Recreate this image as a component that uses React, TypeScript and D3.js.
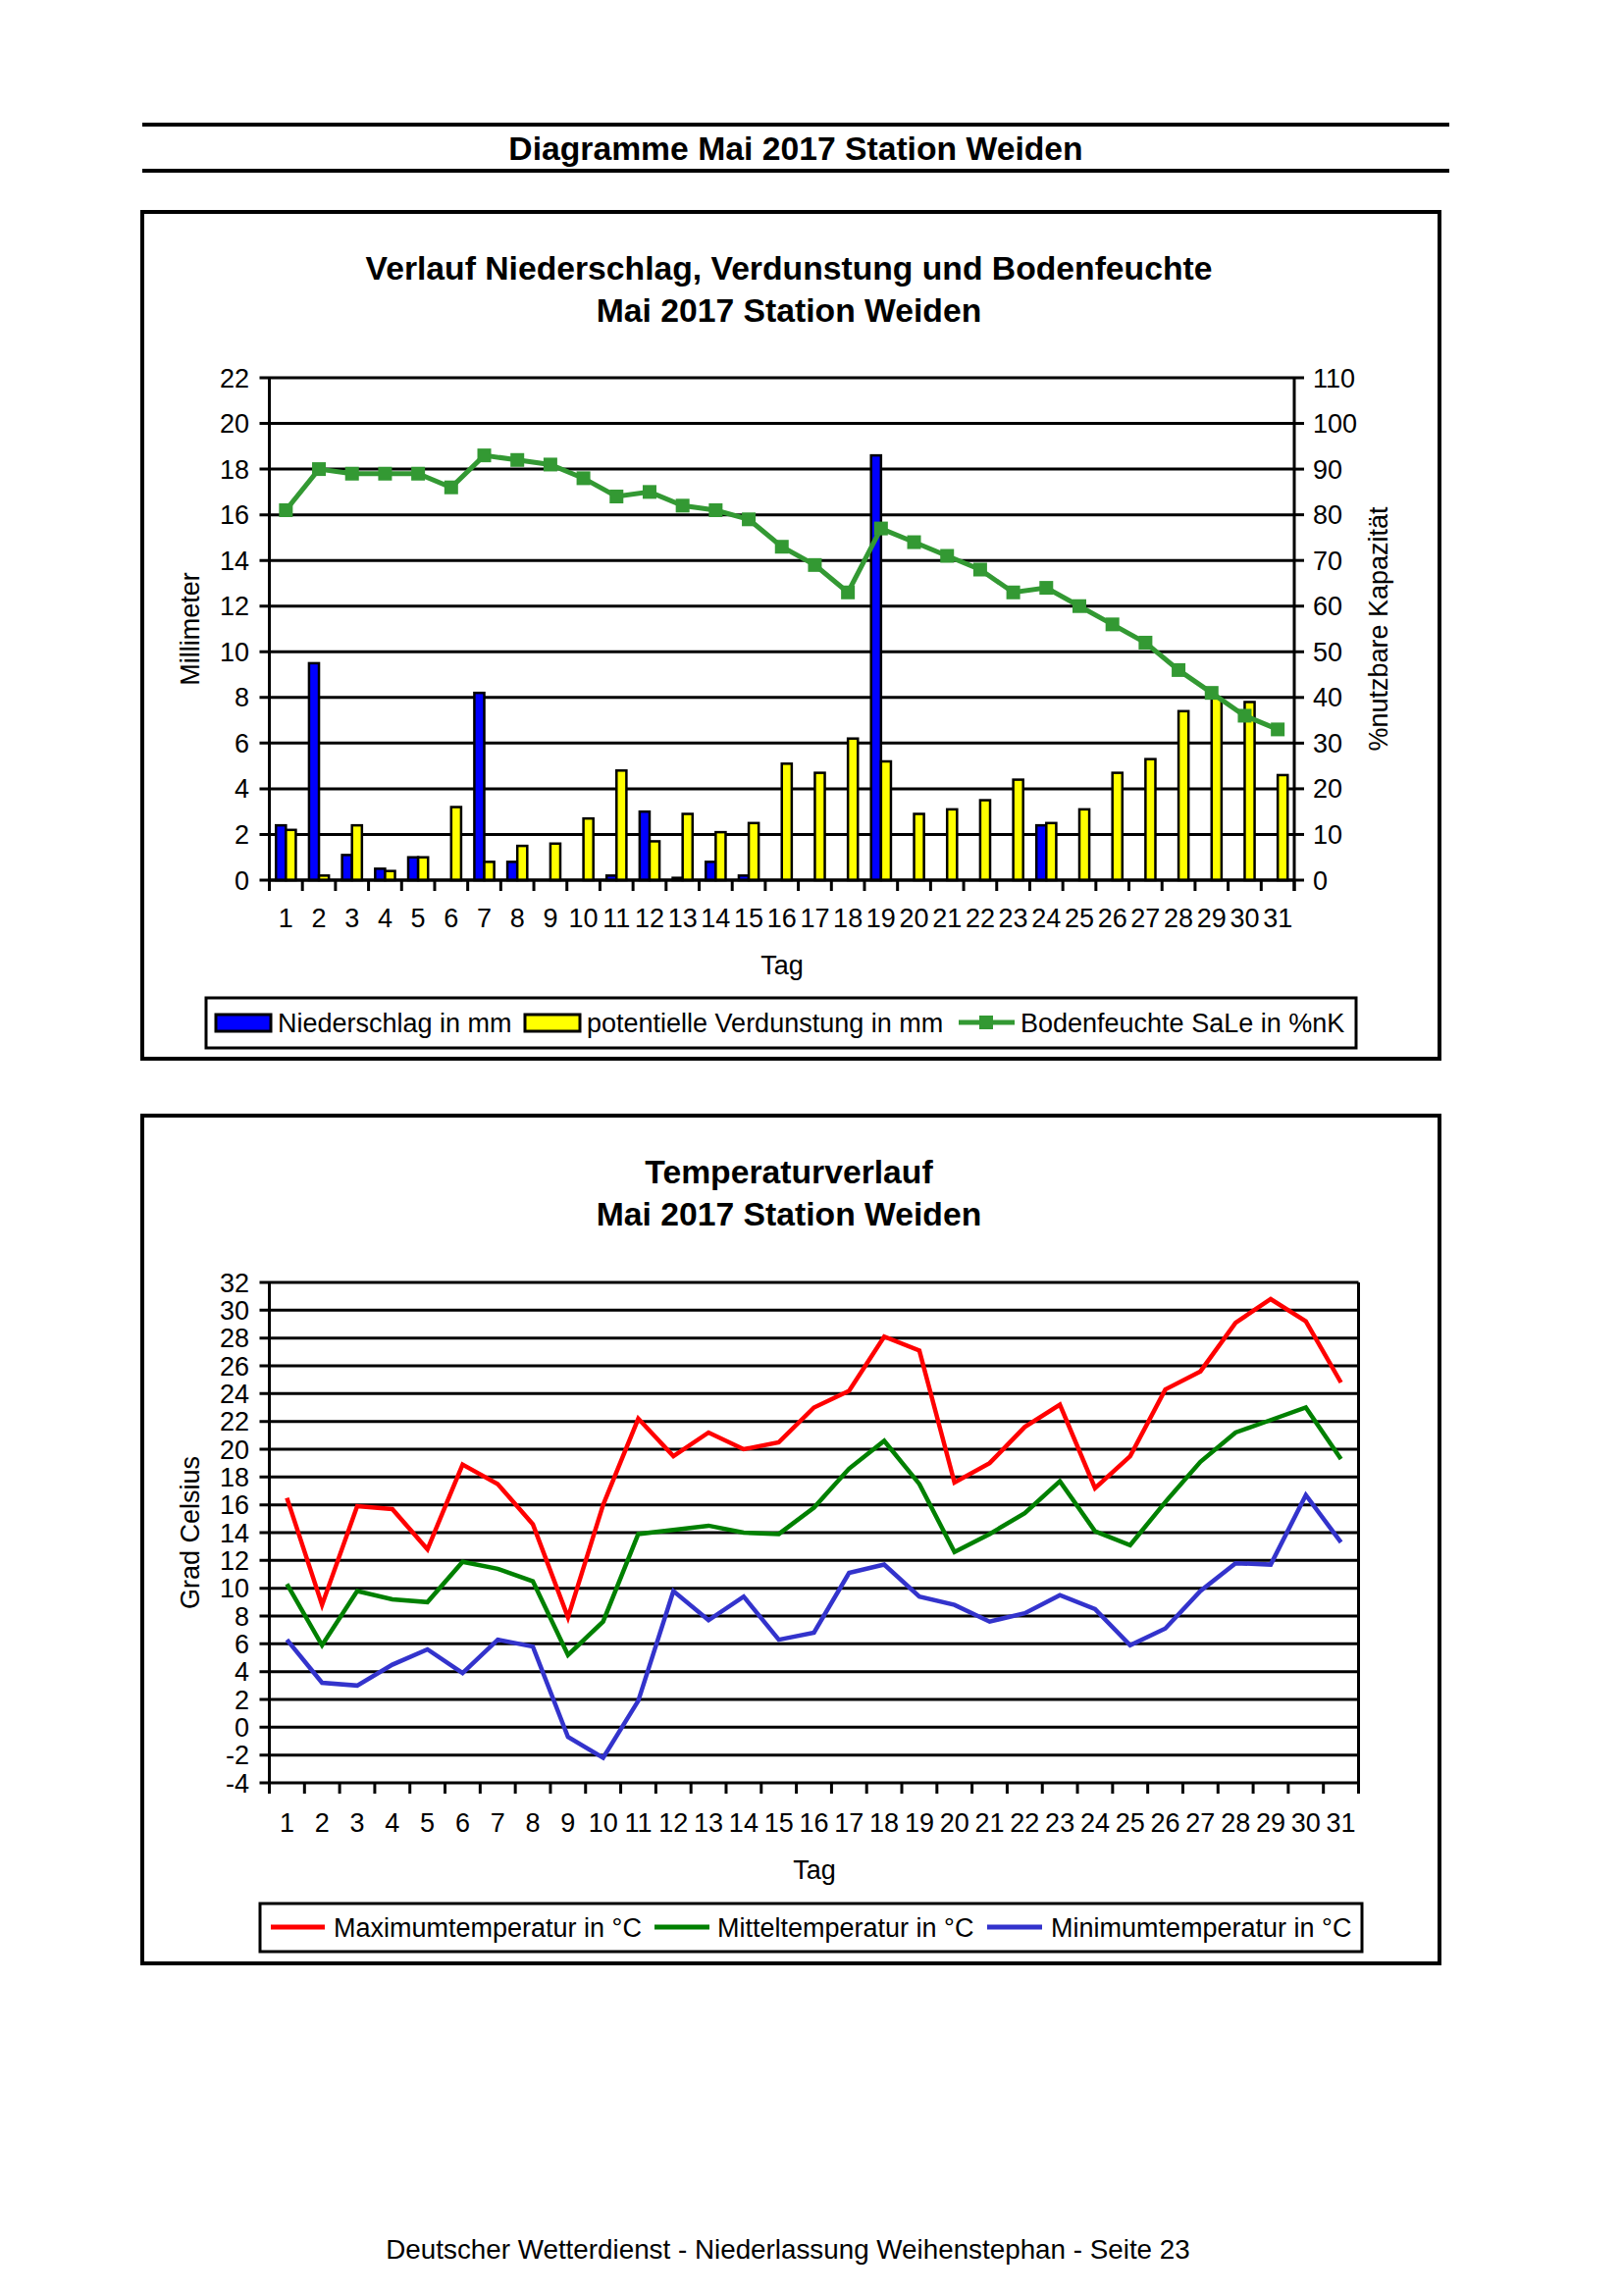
import React from 'react';
import * as d3 from 'd3';

const FONT = '"Liberation Sans", Arial, Helvetica, sans-serif';

const days = ["1","2","3","4","5","6","7","8","9","10","11","12","13","14","15","16","17","18","19","20","21","22","23","24","25","26","27","28","29","30","31"];
const niederschlag = [2.4,9.5,1.1,0.5,1.0,0,8.2,0.8,0,0,0.2,3.0,0.1,0.8,0.2,0,0,0,18.6,0,0,0,0,2.4,0,0,0,0,0,0,0];
const verdunstung = [2.2,0.2,2.4,0.4,1.0,3.2,0.8,1.5,1.6,2.7,4.8,1.7,2.9,2.1,2.5,5.1,4.7,6.2,5.2,2.9,3.1,3.5,4.4,2.5,3.1,4.7,5.3,7.4,8.0,7.8,4.6];
const bodenfeuchte = [81,90,89,89,89,86,93,92,91,88,84,85,82,81,79,73,69,63,77,74,71,68,63,64,60,56,52,46,41,36,33];
const tMax = [16.5,8.8,15.9,15.7,12.8,18.9,17.5,14.6,7.9,16.0,22.2,19.5,21.2,20.0,20.5,23.0,24.2,28.1,27.1,17.6,19.0,21.6,23.2,17.2,19.5,24.3,25.6,29.1,30.8,29.2,24.8];
const tMittel = [10.3,5.9,9.8,9.2,9.0,11.9,11.4,10.5,5.2,7.6,13.9,14.2,14.5,14.0,13.9,15.8,18.6,20.6,17.5,12.6,13.9,15.4,17.7,14.1,13.1,16.2,19.1,21.2,22.1,23.0,19.3];
const tMin = [6.3,3.2,3.0,4.5,5.6,3.9,6.3,5.8,-0.7,-2.2,1.9,9.8,7.7,9.4,6.3,6.8,11.1,11.7,9.4,8.8,7.6,8.2,9.5,8.5,5.9,7.1,9.8,11.8,11.7,16.7,13.3];
const mmTicks = [0,2,4,6,8,10,12,14,16,18,20,22];
const pctTicks = [0,10,20,30,40,50,60,70,80,90,100,110];
const tempTicks = [-4,-2,0,2,4,6,8,10,12,14,16,18,20,22,24,26,28,30,32];

const pageTitle = "Diagramme Mai 2017 Station Weiden";
const chart1Title = ["Verlauf Niederschlag, Verdunstung und Bodenfeuchte", "Mai 2017 Station Weiden"];
const chart2Title = ["Temperaturverlauf", "Mai 2017 Station Weiden"];
const footer = "Deutscher Wetterdienst - Niederlassung Weihenstephan - Seite 23";

const TICK_FS = 27;
const LEG_FS = 27;
const TITLE_FS = 33.7;

function Chart1() {
  const L = 274.5, R = 1319, T = 385, B = 897;
  const x = d3.scaleBand<string>().domain(days).range([L, R]).paddingInner(0).paddingOuter(0);
  const yL = d3.scaleLinear().domain([0, 22]).range([B, T]);
  const yR = d3.scaleLinear().domain([0, 110]).range([B, T]);
  const bw = x.bandwidth() * 0.3;
  const line = d3.line<number>().x((_, i) => (x(days[i]) as number) + x.bandwidth() / 2).y(d => yR(d));
  const boundaries = days.map(d => x(d) as number).concat([R]);
  return (
    <g>
      <rect x={145} y={216} width={1322} height={863} fill="white" stroke="black" strokeWidth={4} />
      {chart1Title.map((t, i) => (
        <text key={i} x={804} y={285 + i * 43} textAnchor="middle" fontSize={TITLE_FS} fontWeight="bold" fontFamily={FONT}>{t}</text>
      ))}
      {mmTicks.map(v => (
        <g key={v}>
          <line x1={L - 10} x2={R} y1={yL(v)} y2={yL(v)} stroke="black" strokeWidth={3} />
          <text x={254} y={yL(v) + 9.5} textAnchor="end" fontSize={TICK_FS} fontFamily={FONT}>{v}</text>
        </g>
      ))}
      {pctTicks.map(v => (
        <g key={v}>
          <line x1={R} x2={R + 10} y1={yR(v)} y2={yR(v)} stroke="black" strokeWidth={3} />
          <text x={1338} y={yR(v) + 9.5} textAnchor="start" fontSize={TICK_FS} fontFamily={FONT}>{v}</text>
        </g>
      ))}
      {boundaries.map((bx, i) => (
        <line key={i} x1={bx} x2={bx} y1={B} y2={B + 11} stroke="black" strokeWidth={3} />
      ))}
      <line x1={L} x2={L} y1={T} y2={B + 11} stroke="black" strokeWidth={3} />
      <line x1={R} x2={R} y1={T} y2={B + 11} stroke="black" strokeWidth={3} />
      {days.map((d, i) => {
        const cx = (x(d) as number) + x.bandwidth() / 2;
        return (
          <g key={d}>
            {niederschlag[i] > 0 && (
              <rect x={cx - bw} y={yL(niederschlag[i])} width={bw} height={B - yL(niederschlag[i])} fill="#0000FF" stroke="black" strokeWidth={2.5} />
            )}
            {verdunstung[i] > 0 && (
              <rect x={cx} y={yL(verdunstung[i])} width={bw} height={B - yL(verdunstung[i])} fill="#FFFF00" stroke="black" strokeWidth={2.5} />
            )}
            <text x={cx} y={945} textAnchor="middle" fontSize={TICK_FS} fontFamily={FONT}>{d}</text>
          </g>
        );
      })}
      <line x1={L} x2={R} y1={B} y2={B} stroke="black" strokeWidth={3} />
      <path d={line(bodenfeuchte) as string} fill="none" stroke="#339933" strokeWidth={5} />
      {bodenfeuchte.map((v, i) => {
        const cx = (x(days[i]) as number) + x.bandwidth() / 2;
        return <rect key={i} x={cx - 7} y={yR(v) - 7} width={14} height={14} fill="#339933" />;
      })}
      <text x={797} y={993} textAnchor="middle" fontSize={TICK_FS} fontFamily={FONT}>Tag</text>
      <text transform={`translate(203,641) rotate(-90)`} textAnchor="middle" fontSize={TICK_FS} fontFamily={FONT}>Millimeter</text>
      <text transform={`translate(1414,641) rotate(-90)`} textAnchor="middle" fontSize={TICK_FS} fontFamily={FONT}>%nutzbare Kapazität</text>
      <rect x={210} y={1017} width={1172} height={51} fill="white" stroke="black" strokeWidth={3} />
      <rect x={220} y={1034} width={56} height={17} fill="#0000FF" stroke="black" strokeWidth={3} />
      <text x={283} y={1052} fontSize={LEG_FS} fontFamily={FONT}>Niederschlag in mm</text>
      <rect x={535} y={1034} width={56} height={17} fill="#FFFF00" stroke="black" strokeWidth={3} />
      <text x={598} y={1052} fontSize={LEG_FS} fontFamily={FONT}>potentielle Verdunstung in mm</text>
      <line x1={977} x2={1034} y1={1042} y2={1042} stroke="#339933" strokeWidth={5} />
      <rect x={998} y={1035} width={14} height={14} fill="#339933" />
      <text x={1040} y={1052} fontSize={LEG_FS} fontFamily={FONT}>Bodenfeuchte SaLe in %nK</text>
    </g>
  );
}

function Chart2() {
  const L = 274.5, R = 1384.5, T = 1307, B = 1817;
  const x = d3.scaleBand<string>().domain(days).range([L, R]).paddingInner(0).paddingOuter(0);
  const y = d3.scaleLinear().domain([-4, 32]).range([B, T]);
  const line = d3.line<number>().x((_, i) => (x(days[i]) as number) + x.bandwidth() / 2).y(d => y(d));
  const boundaries = days.map(d => x(d) as number).concat([R]);
  const series = [
    { data: tMax, color: "#FF0000" },
    { data: tMittel, color: "#008000" },
    { data: tMin, color: "#3333CC" },
  ];
  return (
    <g>
      <rect x={145} y={1137} width={1322} height={864} fill="white" stroke="black" strokeWidth={4} />
      {chart2Title.map((t, i) => (
        <text key={i} x={804} y={1206 + i * 43} textAnchor="middle" fontSize={TITLE_FS} fontWeight="bold" fontFamily={FONT}>{t}</text>
      ))}
      {tempTicks.map(v => (
        <g key={v}>
          <line x1={L - 10} x2={R} y1={y(v)} y2={y(v)} stroke="black" strokeWidth={3} />
          <text x={254} y={y(v) + 9.5} textAnchor="end" fontSize={TICK_FS} fontFamily={FONT}>{v}</text>
        </g>
      ))}
      {boundaries.map((bx, i) => (
        <line key={i} x1={bx} x2={bx} y1={B} y2={B + 11} stroke="black" strokeWidth={3} />
      ))}
      <line x1={L} x2={L} y1={T} y2={B + 11} stroke="black" strokeWidth={3} />
      <line x1={R} x2={R} y1={T} y2={B + 11} stroke="black" strokeWidth={3} />
      {days.map(d => (
        <text key={d} x={(x(d) as number) + x.bandwidth() / 2} y={1867} textAnchor="middle" fontSize={TICK_FS} fontFamily={FONT}>{d}</text>
      ))}
      {series.map((s, i) => (
        <path key={i} d={line(s.data) as string} fill="none" stroke={s.color} strokeWidth={4.5} />
      ))}
      <text x={830} y={1915} textAnchor="middle" fontSize={TICK_FS} fontFamily={FONT}>Tag</text>
      <text transform={`translate(203,1562) rotate(-90)`} textAnchor="middle" fontSize={TICK_FS} fontFamily={FONT}>Grad Celsius</text>
      <rect x={265} y={1940} width={1123} height={49} fill="white" stroke="black" strokeWidth={3} />
      <line x1={276} x2={331} y1={1964} y2={1964} stroke="#FF0000" strokeWidth={5} />
      <text x={340} y={1974} fontSize={LEG_FS} fontFamily={FONT}>Maximumtemperatur in °C</text>
      <line x1={667} x2={723} y1={1964} y2={1964} stroke="#008000" strokeWidth={5} />
      <text x={731} y={1974} fontSize={LEG_FS} fontFamily={FONT}>Mitteltemperatur in °C</text>
      <line x1={1006} x2={1062} y1={1964} y2={1964} stroke="#3333CC" strokeWidth={5} />
      <text x={1071} y={1974} fontSize={LEG_FS} fontFamily={FONT}>Minimumtemperatur in °C</text>
    </g>
  );
}

export default function App() {
  return (
    <svg width={1653} height={2340} style={{ position: 'absolute', left: 0, top: 0, display: 'block', background: 'white' }}>
      <rect x={0} y={0} width={1653} height={2340} fill="white" />
      <line x1={145} x2={1477} y1={127} y2={127} stroke="black" strokeWidth={4} />
      <text x={811} y={163} textAnchor="middle" fontSize={TITLE_FS} fontWeight="bold" fontFamily={FONT}>{pageTitle}</text>
      <line x1={145} x2={1477} y1={174} y2={174} stroke="black" strokeWidth={4} />
      <Chart1 />
      <Chart2 />
      <text x={803} y={2302} textAnchor="middle" fontSize={27.8} fontFamily={FONT}>{footer}</text>
    </svg>
  );
}
